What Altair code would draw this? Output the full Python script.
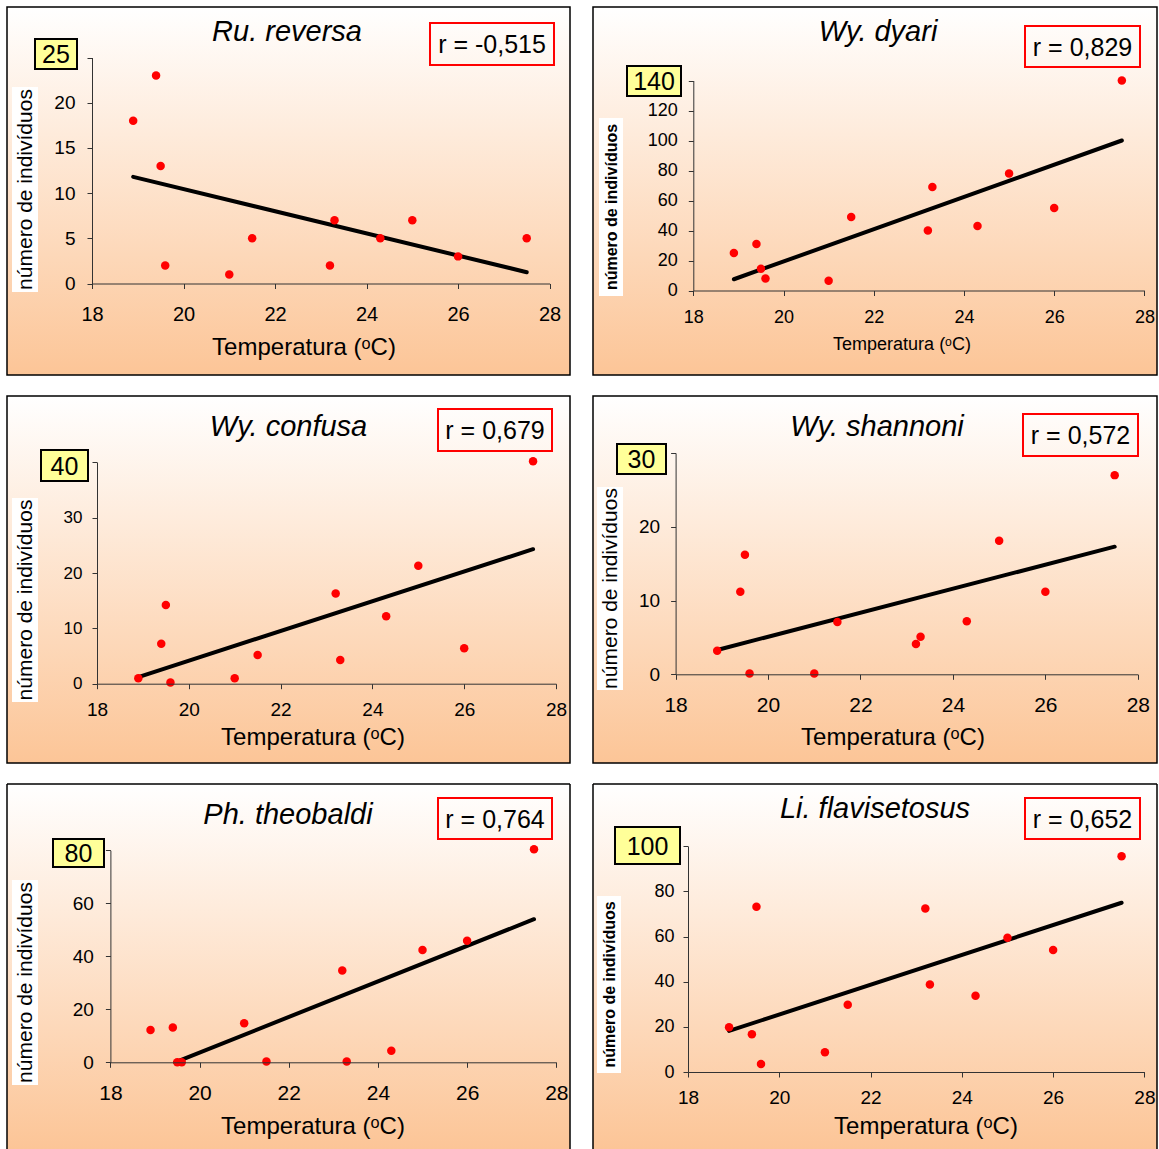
import altair as alt
import pandas as pd

# Temperatura (ºC) das doze amostras, comum aos seis gráficos
temperatura = [18.9, 19.4, 19.5, 19.6, 21.0, 21.5, 23.2, 23.3, 24.3, 25.0, 26.0, 27.5]

# Número de indivíduos por espécie
ru_reversa = [18, 23, 13, 2, 1, 5, 2, 7, 5, 7, 3, 5]
wy_dyari = [25, 31, 14.5, 8, 6.5, 49, 40, 69, 43, 78, 55, 140]
wy_confusa = [1, 7.2, 14.2, 0.2, 1, 5.2, 16.3, 4.3, 12.2, 21.3, 6.4, 40.2]
wy_shannoni = [3.2, 11.2, 16.2, 0.1, 0.1, 7.1, 4.1, 5.1, 7.2, 18.1, 11.2, 27]
ph_theobaldi = [12.2, 13.1, 0, 0, 14.7, 0.3, 34.6, 0.3, 4.4, 42.4, 45.9, 80.4]
li_flavisetosus = [19.8, 16.7, 73.2, 3.5, 8.7, 29.8, 72.4, 38.8, 33.8, 59.5, 54.1, 95.6]

series = [ru_reversa, wy_dyari, wy_confusa, wy_shannoni, ph_theobaldi, li_flavisetosus]
especies = ["Ru. reversa", "Wy. dyari", "Wy. confusa", "Wy. shannoni", "Ph. theobaldi", "Li. flavisetosus"]
correlacoes = ["r = -0,515", "r = 0,829", "r = 0,679", "r = 0,572", "r = 0,764", "r = 0,652"]
y_maximos = [25, 140, 40, 30, 80, 100]
y_passos = [5, 20, 10, 10, 20, 20]
x_ticks = [18, 20, 22, 24, 26, 28]

# Extremos das retas de tendência linear
tendencia_x = [[18.9, 27.5], [18.9, 27.5], [18.9, 27.5], [18.9, 27.5], [19.45, 27.5], [18.9, 27.5]]
tendencia_y = [[11.8, 1.25], [7.5, 100], [1.2, 24.3], [3.3, 17.3], [0, 54], [18.2, 75]]

FONTE = "Liberation Sans"

# Geometria de cada quadro (pixels relativos ao canto do quadro)
LAYOUT = [
    dict(w=563, h=368, xr=[85, 542.6], yr=[276.5, 50.5], title=(280, 25), rbox=(423, 547, 16, 58),
         ybox=(28, 70, 32, 62), ytbox=(5, 31, 80, 285), ytsize=21, ytbold=False, xt=(297, 341), xtsize=24,
         ylab=19, xlab=20, ypad=12, xpad=16, closed=True),
    dict(w=564, h=368, xr=[100.3, 551.4], yr=[283.5, 73.5], title=(285, 25), rbox=(432, 547, 19, 60),
         ybox=(34, 88, 59, 89), ytbox=(6, 30, 111, 289), ytsize=16, ytbold=True, xt=(309, 338), xtsize=18,
         ylab=18, xlab=18, ypad=11, xpad=13, closed=True),
    dict(w=563, h=367, xr=[90, 549], yr=[287.7, 66.3], title=(281.5, 31), rbox=(431, 545, 13, 55),
         ybox=(34, 81, 54, 85), ytbox=(5, 31, 102, 306), ytsize=21, ytbold=False, xt=(306, 342), xtsize=24,
         ylab=17, xlab=19, ypad=10, xpad=12, closed=True),
    dict(w=564, h=367, xr=[82.6, 544.8], yr=[278.3, 57], title=(284, 31), rbox=(430, 545, 18, 60),
         ybox=(24, 73, 48, 78), ytbox=(4, 30, 91, 294), ytsize=21, ytbold=False, xt=(300, 342), xtsize=24,
         ylab=19, xlab=21, ypad=11, xpad=15, closed=True),
    dict(w=563, h=365, xr=[103.4, 549.3], yr=[278.3, 66.3], title=(281, 31), rbox=(431, 545, 14, 55),
         ybox=(46, 97, 55, 83), ytbox=(5, 31, 96, 301), ytsize=21, ytbold=False, xt=(306, 343), xtsize=24,
         ylab=19, xlab=21, ypad=12, xpad=15, closed=False),
    dict(w=564, h=365, xr=[95, 551.4], yr=[288, 62.3], title=(282, 24.5), rbox=(432, 547, 14, 55),
         ybox=(22, 87, 43, 80), ytbox=(4, 28, 112, 289), ytsize=16, ytbold=True, xt=(333, 343), xtsize=24,
         ylab=18, xlab=19, ypad=9, xpad=11, closed=False),
]

fundo = alt.Gradient(
    gradient="linear",
    stops=[alt.GradientStop(color="#ffffff", offset=0), alt.GradientStop(color="#fcc597", offset=1)],
    x1=0, x2=0, y1=0, y2=1,
)

unico = pd.DataFrame({"k": [0]})


def caixa(x0, x1, y0, y1, **estilo):
    return alt.Chart(unico).mark_rect(**estilo).encode(
        x=alt.value(x0), x2=alt.value(x1), y=alt.value(y0), y2=alt.value(y1)
    )


def texto(cx, cy, conteudo, **estilo):
    base = dict(font=FONTE, color="black", align="center", baseline="middle")
    base.update(estilo)
    return alt.Chart(unico).mark_text(text=conteudo, **base).encode(x=alt.value(cx), y=alt.value(cy))


def painel(i):
    g = LAYOUT[i]
    W, H = g["w"], g["h"]
    ymax, passo = y_maximos[i], y_passos[i]

    pontos = pd.DataFrame({"temperatura": temperatura, "individuos": series[i]})
    reta = pd.DataFrame({"temperatura": tendencia_x[i], "individuos": tendencia_y[i]})

    eixo_comum = dict(
        domainColor="#333333", domainWidth=1, tickColor="#333333", tickWidth=1, tickSize=5,
        labelFont=FONTE, labelColor="black", grid=False, title=None, zindex=1,
        labelFlush=False, labelOverlap=False,
    )
    x_enc = alt.X(
        "temperatura:Q",
        scale=alt.Scale(domain=[18, 28], range=g["xr"], nice=False, zero=False),
        axis=alt.Axis(values=x_ticks, orient="bottom", offset=g["yr"][0] - H,
                      labelFontSize=g["xlab"], labelPadding=g["xpad"], **eixo_comum),
    )
    y_enc = alt.Y(
        "individuos:Q",
        scale=alt.Scale(domain=[0, ymax], range=g["yr"], nice=False, zero=False),
        axis=alt.Axis(values=list(range(0, ymax + 1, passo)), orient="left", offset=-g["xr"][0],
                      labelFontSize=g["ylab"], labelPadding=g["ypad"],
                      labelExpr=f"datum.value == {ymax} ? '' : datum.label", **eixo_comum),
    )

    camadas = []
    if g["closed"]:
        camadas.append(caixa(0, W, 0, H, fill=fundo, stroke="black", strokeWidth=1.5))
    else:
        camadas.append(caixa(0, W, 0, H, fill=fundo))
        borda = alt.Chart(unico).mark_rule(color="black", strokeWidth=1.5)
        camadas.append(borda.encode(x=alt.value(0), y=alt.value(0), y2=alt.value(H)))
        camadas.append(borda.encode(x=alt.value(W), y=alt.value(0), y2=alt.value(H)))
        camadas.append(borda.encode(x=alt.value(0), x2=alt.value(W), y=alt.value(0)))

    # título do eixo y sobre fundo branco
    bx0, bx1, by0, by1 = g["ytbox"]
    camadas.append(caixa(bx0, bx1, by0, by1, fill="white"))
    estilo_yt = dict(fontSize=g["ytsize"], angle=270)
    if g["ytbold"]:
        estilo_yt.update(fontWeight="bold")
    camadas.append(texto((bx0 + bx1) / 2 + 1, (by0 + by1) / 2, "número de indivíduos", **estilo_yt))

    # nome da espécie
    camadas.append(texto(g["title"][0], g["title"][1], especies[i], fontSize=29, fontStyle="italic"))

    # coeficiente de correlação
    rx0, rx1, ry0, ry1 = g["rbox"]
    camadas.append(caixa(rx0, rx1, ry0, ry1, fillOpacity=0, stroke="#ff0000", strokeWidth=2))
    camadas.append(texto((rx0 + rx1) / 2, (ry0 + ry1) / 2 + 1, correlacoes[i], fontSize=25))

    # valor máximo do eixo y em destaque
    yx0, yx1, yy0, yy1 = g["ybox"]
    camadas.append(caixa(yx0, yx1, yy0, yy1, fill="#ffff99", stroke="black", strokeWidth=2))
    camadas.append(texto((yx0 + yx1) / 2, (yy0 + yy1) / 2 + 1, str(ymax), fontSize=25))

    # título do eixo x
    camadas.append(texto(g["xt"][0], g["xt"][1], "Temperatura (ᵒC)", fontSize=g["xtsize"]))

    # reta de tendência e pontos
    camadas.append(
        alt.Chart(reta).mark_line(color="black", strokeWidth=4, strokeCap="round").encode(x=x_enc, y=y_enc)
    )
    camadas.append(
        alt.Chart(pontos).mark_circle(color="#ff0000", size=72, opacity=1).encode(x=x_enc, y=y_enc)
    )

    return alt.layer(*camadas).properties(width=W, height=H)


linhas = [
    alt.hconcat(painel(0), painel(1), spacing=21),
    alt.hconcat(painel(2), painel(3), spacing=21),
    alt.hconcat(painel(4), painel(5), spacing=21),
]

chart = (
    alt.vconcat(*linhas, spacing=19)
    .properties(padding={"left": 6, "top": 6, "right": 0, "bottom": 0}, background="white")
    .configure_view(strokeWidth=0)
)

chart.save("out.html", embed_options={"renderer": "svg", "actions": False})
